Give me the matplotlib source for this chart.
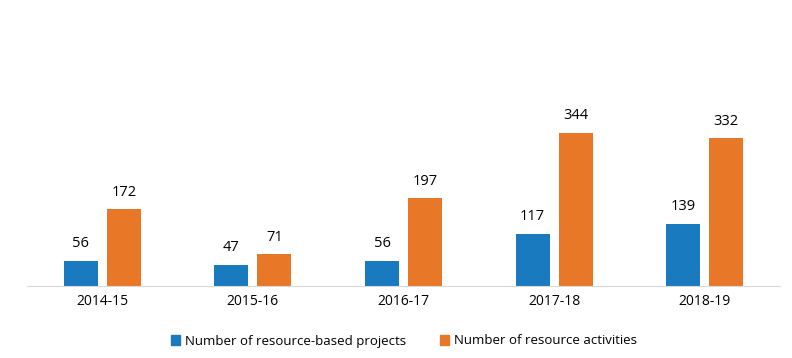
import numpy as np
import matplotlib.pyplot as plt
from matplotlib.patches import Patch

years = ["2014-15", "2015-16", "2016-17", "2017-18", "2018-19"]
projects = [56, 47, 56, 117, 139]
activities = [172, 71, 197, 344, 332]

blue = "#1A7AC0"
orange = "#E87828"

plt.rcParams['font.family'] = ['Open Sans', 'DejaVu Sans']

fig = plt.figure(figsize=(7.92, 3.58), dpi=100)
ax = fig.add_axes([27/792, 72/358, 753/792, 178/358])

x = np.arange(len(years))
w = 0.226
off = 0.143
b1 = ax.bar(x - off, projects, w, color=blue)
b2 = ax.bar(x + off, activities, w, color=orange)

for bars in (b1, b2):
    for r in bars:
        ax.annotate(str(int(r.get_height())), (r.get_x() + r.get_width()/2, r.get_height()),
                    xytext=(0, 7), textcoords="offset points", ha="center", va="bottom",
                    fontsize=10.5, color="#000000")

ax.set_xlim(-0.5, len(years) - 0.5)
ax.set_ylim(0, 400)
ax.set_xticks(x)
ax.set_xticklabels(years, fontsize=10)
ax.tick_params(axis="x", length=0, pad=6)
ax.set_yticks([])
for s in ("top", "right", "left"):
    ax.spines[s].set_visible(False)
ax.spines["bottom"].set_color("#D9D9D9")

handles = [Patch(color=blue), Patch(color=orange)]
fig.legend(handles, ["Number of resource-based projects", "Number of resource activities"],
           loc="center", bbox_to_anchor=(404/792, 1 - 341/358), ncol=2, frameon=False,
           fontsize=9.5, handlelength=0.7, handleheight=0.7, handletextpad=0.4, columnspacing=2.5)

fig.savefig("out.png", dpi=100)
